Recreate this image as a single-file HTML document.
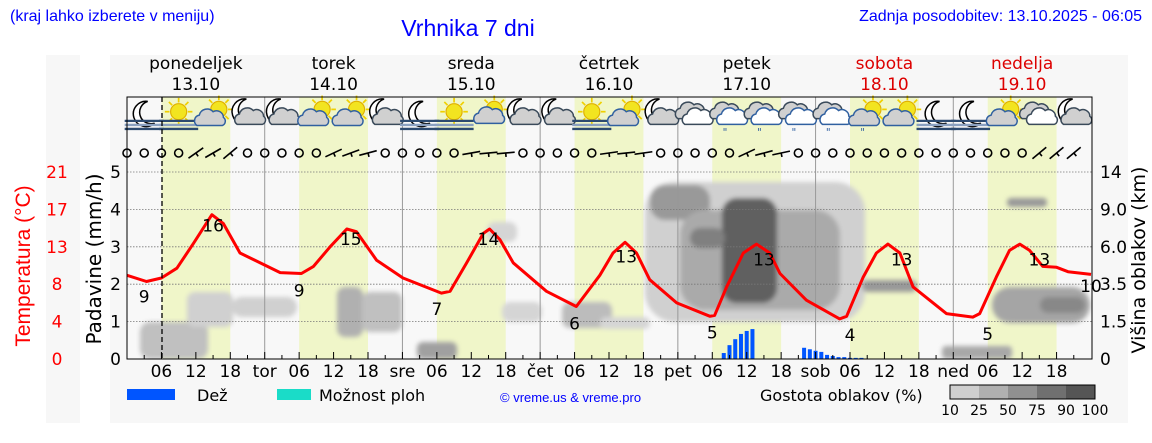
<!DOCTYPE html>
<html><head><meta charset="utf-8">
<style>
html,body{margin:0;padding:0;background:#fff;width:1152px;height:443px;overflow:hidden}
svg{display:block}
.hd{font-family:"Liberation Sans",sans-serif}
.ch{font-family:"DejaVu Sans","Liberation Sans",sans-serif}
</style></head>
<body>
<svg id="chart" width="1152" height="443" viewBox="0 0 1152 443" xmlns="http://www.w3.org/2000/svg">
<defs>
<filter id="blur" x="-20%" y="-20%" width="140%" height="140%"><feGaussianBlur stdDeviation="2.5"/></filter>
<clipPath id="plotclip"><rect x="127" y="97" width="965" height="262"/></clipPath>
</defs>
<text class="hd" x="10" y="21" font-size="16" fill="#0000ff">(kraj lahko izberete v meniju)</text>
<text class="hd" x="468" y="36" font-size="23" fill="#0000ff" text-anchor="middle">Vrhnika 7 dni</text>
<text class="hd" x="1142" y="21" font-size="16" fill="#0000ff" text-anchor="end">Zadnja posodobitev: 13.10.2025 - 06:05</text>
<rect x="46" y="55" width="34" height="368" fill="#f7f7f7"/>
<rect x="110" y="55" width="1018" height="368" fill="#f7f7f7"/>
<rect x="127" y="97" width="965" height="262" fill="#f8f8f8"/>
<g id="bands"></g>
<g id="clouds" clip-path="url(#plotclip)">
  <g filter="url(#blur)">
    <rect x="645" y="182" width="220" height="140" rx="30" fill="#d0d0d0"/>
    <rect x="650" y="185" width="60" height="35" rx="15" fill="#999"/>
    <rect x="680" y="210" width="160" height="100" rx="25" fill="#aaa"/>
    <rect x="722" y="198" width="55" height="105" rx="15" fill="#606060"/>
    <rect x="690" y="228" width="35" height="20" rx="10" fill="#808080"/>
    <rect x="862" y="280" width="55" height="12" rx="6" fill="#999"/>
    <rect x="992" y="287" width="98" height="36" rx="18" fill="#a5a5a5"/>
    <rect x="1040" y="297" width="45" height="16" rx="8" fill="#888"/>
    <rect x="1007" y="198" width="40" height="9" rx="4" fill="#999"/>
    <rect x="152" y="335" width="30" height="24" rx="6" fill="#777"/>
    <rect x="140" y="322" width="68" height="37" rx="10" fill="#c0c0c0"/>
    <rect x="187" y="292" width="46" height="35" rx="8" fill="#d0d0d0"/>
    <rect x="232" y="297" width="65" height="20" rx="10" fill="#d0d0d0"/>
    <rect x="337" y="287" width="26" height="50" rx="8" fill="#b0b0b0"/>
    <rect x="362" y="292" width="40" height="40" rx="8" fill="#c0c0c0"/>
    <rect x="417" y="342" width="40" height="17" rx="6" fill="#a0a0a0"/>
    <rect x="502" y="302" width="40" height="20" rx="8" fill="#d5d5d5"/>
    <rect x="562" y="302" width="50" height="26" rx="8" fill="#bcbcbc"/>
    <rect x="600" y="317" width="50" height="12" rx="6" fill="#d5d5d5"/>
    <rect x="487" y="222" width="30" height="20" rx="8" fill="#d5d5d5"/>
    <rect x="942" y="346" width="70" height="13" rx="4" fill="#a8a8a8"/>
  </g>
</g>
<g id="grid"></g>
<g id="icons"></g>
<g id="wind"></g>
<g id="bars"></g>
<g id="temp"></g>
<g id="axes"></g>
<line x1="162" y1="97" x2="162" y2="359" stroke="#000" stroke-width="1.3" stroke-dasharray="5,3"/>
<text class="hd" x="30" y="266" font-size="21" fill="#ff0000" text-anchor="middle" transform="rotate(-90 30 266)">Temperatura (°C)</text>
<text class="ch" x="101" y="259" font-size="20" fill="#000" text-anchor="middle" transform="rotate(-90 101 259)">Padavine (mm/h)</text>
<text class="ch" x="1145" y="260" font-size="19" fill="#000" text-anchor="middle" transform="rotate(-90 1145 260)">Višina oblakov (km)</text>
<g>
  <rect x="127" y="389" width="48" height="11" fill="#0055ff"/>
  <text class="ch" x="197" y="401" font-size="16">Dež</text>
  <rect x="277" y="389" width="34" height="11" fill="#1adcc8"/>
  <text class="ch" x="319" y="401" font-size="16">Možnost ploh</text>
  <text class="hd" x="500" y="402" font-size="13" fill="#0000ff">© vreme.us &amp; vreme.pro</text>
  <text class="ch" x="760" y="401" font-size="16">Gostota oblakov (%)</text>
  <g id="cbar"></g>
</g>
</svg>
<script>
const NS='http://www.w3.org/2000/svg';
const X0=127, PXH=964/168, Y0=359, PXMM=37.4, PXC=187/21;
const dayNames=['ponedeljek','torek','sreda','četrtek','petek','sobota','nedelja'];
const dayDates=['13.10','14.10','15.10','16.10','17.10','18.10','19.10'];
const dayAbbr=['pon','tor','sre','čet','pet','sob','ned'];
const precipTicks=[0,1,2,3,4,5];
const tempTicks=['0','4','8','13','17','21'];
const heightTicks=['0','1.5','3.5','6.0','9.0','14'];
const tempHours=[0,3.4,6,8.7,11.6,14.8,16.8,19.7,26.7,30.4,32.5,35.4,38.3,40,43.5,48.1,54.8,56.3,59.2,62.1,63.2,65,67.3,73.1,78.3,82.4,84.7,86.8,88.8,91.1,95.8,101.6,102.4,104.5,107.4,109.7,112,113.8,118.4,124.2,125.4,128.3,130.6,132.6,134.7,137,142.8,147.4,148.6,151.5,153.8,155.6,157.3,159.6,162,164,168];
const tempValues=[9.4,8.7,9.1,10.2,13.0,16.2,15.2,11.9,9.7,9.6,10.4,12.6,14.6,14.3,11.1,9.1,7.4,7.6,10.8,14.1,14.6,13.4,10.8,7.6,5.9,9.4,11.9,13.1,11.9,8.9,6.3,4.8,4.9,8.1,11.9,12.9,11.9,9.6,6.6,4.5,4.8,9.2,11.9,12.9,11.9,8.1,5.1,4.7,5.1,9.2,12.2,12.9,12.2,10.4,10.3,9.8,9.5];
const extremeHours=[3,15,30,39,54,63,78,87,102,111,126,135,150,159,168];
const extremeLabels=['9','16','9','15','7','14','6','13','5','13','4','13','5','13','10'];
const extremeTemps=[7,15,7.7,13.5,5.6,13.5,4,11.5,3,11.2,2.7,11.2,2.8,11.2,8.2];
const rainHours=[104,105,106,107,108,109,118,119,120,121,122,123,124,125,126,127,128];
const rainValues=[0.16,0.37,0.53,0.67,0.75,0.8,0.3,0.26,0.22,0.19,0.11,0.08,0.05,0.05,0.03,0.03,0.03];
const iconCodes=['nf','sf','pc','nc','nc','pc','pc','nc','nf','sf','ps','nc','nc','sf','pc','nc','c','r','r','r','r','pr','pc','nf','nf','pc','c','nc'];
const windDirs=[0,0,0,0,35,30,40,0,0,0,0,0,25,20,15,0,0,0,0,0,10,5,5,0,0,0,0,0,8,6,8,0,0,0,0,0,25,15,12,0,0,0,0,0,0,0,0,0,0,0,0,0,0,40,40,40];
const cbarLabels=['10','25','50','75','90','100'];
const cbarColors=['#cfcfcf','#b0b0b0','#909090','#707070','#555555'];
const xh=h=>X0+h*PXH, ymm=v=>Y0-v*PXMM, yT=t=>Y0-t*PXC;
function mk(tag,attrs,parent,txt){const e=document.createElementNS(NS,tag);for(const k in attrs)e.setAttribute(k,attrs[k]);if(txt!==undefined)e.textContent=txt;parent.appendChild(e);return e;}
const G=id=>document.getElementById(id);
for(let d=0;d<7;d++){
  const b=mk('rect',{x:xh(d*24+6),y:97,width:12*PXH,height:262,fill:'#f0f6c9'},G('bands'));
  
  
  const lbl=mk('text',{x:xh(d*24+12),y:69,'font-size':17,'text-anchor':'middle',class:'ch',fill:d>=5?'#dd0000':'#000'},G('axes'),dayNames[d]);
  
  
  const dt=mk('text',{x:xh(d*24+12),y:90,'font-size':17,'text-anchor':'middle',class:'ch',fill:d>=5?'#dd0000':'#000'},G('axes'),dayDates[d]);
  
  
}
for(let i=1;i<precipTicks.length;i++){
  const l=mk('line',{x1:127,x2:1092,y1:ymm(precipTicks[i]),y2:ymm(precipTicks[i]),stroke:'#777','stroke-width':0.8,'stroke-dasharray':'1.5,1.5'},G('grid'));
  
  
}
for(let d=1;d<7;d++){
  const l=mk('line',{x1:xh(d*24),x2:xh(d*24),y1:97,y2:359,stroke:'#999','stroke-width':1},G('grid'));
  
  
}
const ax=G('axes');
mk('rect',{x:127,y:97,width:965,height:262,fill:'none',stroke:'#000','stroke-width':1},ax);
for(let i=0;i<precipTicks.length;i++){
  const y=ymm(precipTicks[i]);
  const t=mk('text',{x:121,y:y+6,'font-size':17,'text-anchor':'end',class:'ch'},ax,precipTicks[i]);
  
  
  const tt=mk('text',{x:57,y:y+6,'font-size':17,'text-anchor':'middle',class:'ch',fill:'#ff0000'},ax,tempTicks[i]);
  
  
  const th=mk('text',{x:1100,y:y+6,'font-size':17,class:'ch'},ax,heightTicks[i]);
  
  
}
for(let h=3;h<168;h+=3){
  mk('line',{x1:xh(h),x2:xh(h),y1:359,y2:h%6==0?352:355,stroke:'#000','stroke-width':1},ax);
}
for(let h=6;h<168;h+=6){
  const lab=h%24==0?dayAbbr[h/24]:String(h%24).padStart(2,'0');
  const t=mk('text',{x:xh(h),y:377,'font-size':17,'text-anchor':'middle',class:'ch'},ax,lab);
  
  
}
rainHours.forEach((h,i)=>{
  const r=mk('rect',{x:xh(h)-2,y:ymm(rainValues[i]),width:4,height:rainValues[i]*PXMM,fill:'#0055ff'},G('bars'));
  
  
});
let d='';
tempHours.forEach((h,i)=>{d+=(i?'L':'M')+xh(h).toFixed(1)+','+yT(tempValues[i]).toFixed(1);});
const tl=mk('path',{d:d,fill:'none',stroke:'#ff0000','stroke-width':3,'stroke-linejoin':'round'},G('temp'));


extremeHours.forEach((h,i)=>{
  const t=mk('text',{x:Math.min(xh(h),1093),y:yT(extremeTemps[i])+6,'font-size':17,'text-anchor':'middle',class:'ch'},G('temp'),extremeLabels[i]);
  
  
});
windDirs.forEach((w,i)=>{
  const x=xh(i*3);
  if(w===0){
    const c=mk('circle',{cx:x,cy:153,r:4,fill:'none',stroke:'#000','stroke-width':1.6},G('wind'));
    
    
  } else {
    const a=w*Math.PI/180, L=9;
    const g=mk('g',{},G('wind'));
    
    
    mk('line',{x1:x-L*Math.cos(a),y1:153+L*Math.sin(a),x2:x+L*Math.cos(a),y2:153-L*Math.sin(a),stroke:'#000','stroke-width':1.6},g);
    mk('line',{x1:x,y1:153,x2:x+4*Math.sin(a),y2:153+4*Math.cos(a),stroke:'#000','stroke-width':1.6},g);
  }
});
function cloud(g,cx,cy,s,fill,stroke){
  mk('path',{d:`M${cx-11*s},${cy+6*s} a5 5 0 0 1 2,-9 a7 7 0 0 1 12,-3 a6 6 0 0 1 9,5 a4 4 0 0 1 -1,7 z`,fill:fill,stroke:stroke,'stroke-width':1.3},g);
}
function sun(g,cx,cy){
  for(let k=0;k<8;k++){const a=k*Math.PI/4;mk('line',{x1:cx+8*Math.cos(a),y1:cy+8*Math.sin(a),x2:cx+12*Math.cos(a),y2:cy+12*Math.sin(a),stroke:'#f0d000','stroke-width':1.5},g);}
  mk('circle',{cx:cx,cy:cy,r:7,fill:'#f2e420',stroke:'#e0b000','stroke-width':1},g);
}
function moon(g,cx,cy){mk('path',{d:`M${cx+3},${cy-11} a11 11 0 1 0 6,19 a9 9 0 0 1 -6,-19 z`,fill:'#fff',stroke:'#000','stroke-width':1.3},g);}
function fog(g,cx,cy){for(let k=0;k<3;k++)mk('line',{x1:cx-17,x2:cx+17,y1:cy+6+k*3.5,y2:cy+6+k*3.5,stroke:k==1?'#8aa0c0':'#2c4a70','stroke-width':2},g);}
iconCodes.forEach((c,i)=>{
  const cx=xh(i*6+3), cy=114;
  const g=mk('g',{transform:`translate(${cx},${cy}) scale(1.15) translate(${-cx},${-cy})`},G('icons'));
  
  
  if(c==='nf'){moon(g,cx,cy);fog(g,cx,cy);}
  else if(c==='sf'){sun(g,cx,cy-2);fog(g,cx,cy);}
  else if(c==='pc'||c==='ps'||c==='pr'){sun(g,cx+5,cy-4);cloud(g,cx-3,cy+4,c==='ps'?0.7:1,'#d0d0d0','#3060a0');if(c==='pr')mk('text',{x:cx-6,y:cy+19,'font-size':9,fill:'#3060a0',class:'ch'},g,'"');}
  else if(c==='nc'){moon(g,cx-4,cy-2);cloud(g,cx+2,cy+3,1,'#d0d0d0','#3a4a5a');}
  else if(c==='c'){cloud(g,cx-4,cy-2,1,'#d0d0d0','#3a4a5a');cloud(g,cx+2,cy+3,1,'#fff','#3a4a5a');}
  else if(c==='r'){cloud(g,cx-4,cy-2,1,'#d0d0d0','#3a4a5a');cloud(g,cx+2,cy+3,1,'#fff','#3060a0');mk('text',{x:cx-6,y:cy+19,'font-size':9,fill:'#3060a0',class:'ch'},g,'"');}
});
cbarColors.forEach((col,i)=>{
  const r=mk('rect',{x:950+i*29,y:385,width:29,height:14,fill:col},G('cbar'));
  
  
});
mk('rect',{x:950,y:385,width:145,height:14,fill:'none',stroke:'#000','stroke-width':1},G('cbar'));
cbarLabels.forEach((l,i)=>{
  const t=mk('text',{x:950+i*29,y:415,'font-size':14,'text-anchor':'middle',class:'ch'},G('cbar'),l);
  
  
});
</script>
</body></html>
